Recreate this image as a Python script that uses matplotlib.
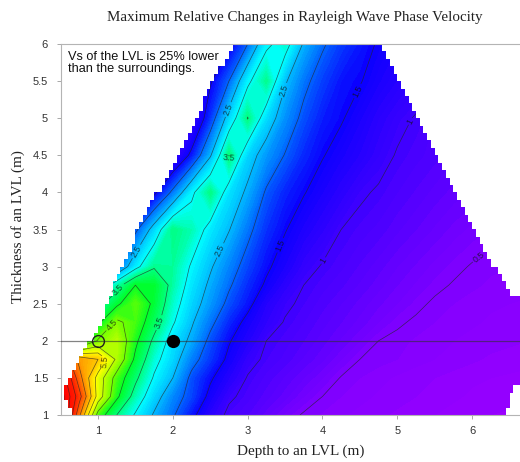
import numpy as np
import matplotlib
matplotlib.use("Agg")
import matplotlib.pyplot as plt
from matplotlib.colors import LinearSegmentedColormap
from matplotlib.patches import Polygon

n = np.nan

# grid of the computed maximum relative change (%) of the phase velocity
depth = [0.5, 0.75, 1.0, 1.25, 1.5, 1.75, 2.0, 2.25, 2.5, 2.75, 3.0, 3.25, 3.5,
         3.75, 4.0, 4.25, 4.5, 4.75, 5.0, 5.25, 5.5, 5.75, 6.0, 6.25, 6.5, 6.75]
thickness = [1.0, 1.25, 1.5, 1.75, 2.0, 2.25, 2.5, 2.75, 3.0, 3.5, 4.0, 4.5, 5.0, 5.5, 6.0]
change = [
    [9.0, 6.6, 4.3, 3.5, 2.95, 2.45, 2.05, 1.6, 1.2, 0.93, 0.85, 0.72, 0.58, 0.48, 0.44, 0.41, 0.38, 0.36, 0.34, 0.32, 0.30, 0.28, 0.26, 0.25, 0.24, 0.23],
    [8.8, 7.2, 5.3, 4.1, 3.3, 2.7, 2.2, 1.85, 1.4, 1.05, 0.92, 0.82, 0.72, 0.6, 0.5, 0.45, 0.42, 0.39, 0.37, 0.35, 0.33, 0.31, 0.29, 0.28, 0.27, 0.26],
    [8.5, 6.7, 5.3, 4.3, 3.6, 2.95, 2.5, 1.9, 1.55, 1.25, 0.98, 0.88, 0.79, 0.7, 0.6, 0.49, 0.45, 0.42, 0.39, 0.37, 0.35, 0.33, 0.31, 0.3, 0.29, 0.28],
    [7.6, 6.35, 6.0, 4.9, 3.9, 3.15, 2.7, 2.15, 1.78, 1.42, 1.1, 0.95, 0.88, 0.79, 0.71, 0.6, 0.5, 0.47, 0.45, 0.42, 0.4, 0.38, 0.36, 0.34, 0.33, 0.32],
    [n, 3.6, 4.55, 4.95, 4.1, 3.4, 2.8, 2.4, 1.9, 1.53, 1.27, 1.0, 0.92, 0.85, 0.77, 0.69, 0.6, 0.5, 0.47, 0.44, 0.42, 0.4, 0.38, 0.37, 0.36, 0.35],
    [n, 3.0, 3.9, 4.6, 4.3, 3.7, 3.05, 2.55, 2.1, 1.7, 1.4, 1.15, 0.98, 0.9, 0.82, 0.75, 0.68, 0.6, 0.52, 0.48, 0.45, 0.43, 0.41, 0.39, 0.38, 0.37],
    [n, n, 3.3, 3.9, 4.4, 3.9, 3.2, 2.7, 2.3, 1.9, 1.6, 1.25, 1.05, 0.95, 0.87, 0.8, 0.73, 0.66, 0.6, 0.53, 0.48, 0.45, 0.43, 0.41, 0.4, 0.39],
    [n, n, 2.5, 3.3, 4.0, 3.95, 3.35, 2.82, 2.42, 2.05, 1.72, 1.45, 1.18, 1.0, 0.92, 0.86, 0.79, 0.72, 0.65, 0.59, 0.53, 0.49, 0.46, 0.44, 0.43, 0.42],
    [n, n, n, 2.0, 2.85, 3.45, 3.4, 2.95, 2.55, 2.18, 1.85, 1.56, 1.34, 1.1, 0.98, 0.91, 0.84, 0.77, 0.7, 0.64, 0.58, 0.53, 0.49, 0.46, 0.45, n],
    [n, n, n, n, 1.9, 2.7, 3.5, 3.3, 2.85, 2.52, 2.1, 1.75, 1.52, 1.32, 1.16, 1.0, 0.93, 0.88, 0.81, 0.75, 0.69, 0.63, 0.58, 0.54, n, n],
    [n, n, n, n, n, 1.4, 2.1, 2.9, 3.5, 2.8, 2.42, 1.95, 1.68, 1.52, 1.35, 1.19, 1.04, 0.97, 0.9, 0.84, 0.78, 0.73, 0.69, n, n, n],
    [n, n, n, n, n, n, 1.0, 1.6, 2.45, 3.55, 2.7, 2.3, 1.98, 1.7, 1.52, 1.37, 1.24, 1.1, 0.98, 0.92, 0.87, 0.81, n, n, n, n],
    [n, n, n, n, n, n, n, 1.0, 1.75, 2.7, 3.52, 2.75, 2.25, 1.9, 1.65, 1.53, 1.36, 1.2, 1.07, 0.98, 0.9, n, n, n, n, n],
    [n, n, n, n, n, n, n, 1.0, 1.45, 2.0, 2.9, 3.45, 2.55, 2.1, 1.82, 1.6, 1.52, 1.36, 1.24, 1.14, n, n, n, n, n, n],
    [n, n, n, n, n, n, n, n, 1.0, 1.4, 2.0, 2.9, 3.2, 2.45, 2.05, 1.8, 1.62, 1.47, 1.35, n, n, n, n, n, n, n],
]

# blanking outline of the modelled region
left_h = [1.0, 1.12, 1.25, 1.4, 1.5, 1.75, 2.0, 2.25, 2.5, 2.7, 3.1, 3.7, 4.3, 5.0, 5.25, 5.5, 5.75, 6.0]
left_d = [0.65, 0.57, 0.55, 0.6, 0.66, 0.79, 0.93, 1.07, 1.16, 1.2, 1.39, 1.65, 2.0, 2.36, 2.44, 2.55, 2.72, 2.82]
right_h = [1.0, 1.15, 1.3, 1.4, 2.5, 2.6, 2.73, 3.26, 4.13, 4.94, 5.92, 6.0]
right_d = [6.45, 6.5, 6.56, 6.8, 6.8, 6.52, 6.43, 6.11, 5.66, 5.26, 4.8, 4.75]

# models marked on the 2 m thick layer
open_pt = (1.0, 2.0)
solid_pt = (2.0, 2.0)

# contour labels: level -> places along the line
label_spots = {
    0.5: [(6.07, 3.16)],
    1.0: [(4.07, 3.05), (5.21, 4.94)],
    1.5: [(3.43, 3.29), (4.44, 5.38)],
    2.5: [(2.63, 3.22), (1.52, 3.2), (3.47, 5.38), (2.76, 5.11)],
    3.5: [(1.33, 2.64), (1.83, 2.24), (2.66, 4.41)],
    4.5: [(1.19, 2.21)],
    5.5: [(1.12, 1.71)],
}
plain_levels = [2.0, 3.0, 4.0, 5.0, 6.0, 6.5, 7.0, 7.5, 8.0, 8.5]

cmap_vals = [0.0, 0.5, 1.0, 1.5, 2.0, 2.5, 3.0, 3.5, 4.0, 4.5, 5.0, 5.5, 6.0, 6.5, 7.0, 7.5, 8.5]
cmap_cols = ['#af00ff', '#7d00ff', '#3c00ff', '#0a00ff', '#0064ff', '#00b9ff', '#00ffff',
             '#00ff82', '#00ff28', '#6eff00', '#beff00', '#ffff00', '#ffc800', '#ff8c00',
             '#ff5000', '#ff1e00', '#ff0000']
vmin, vmax = cmap_vals[0], cmap_vals[-1]
rainbow = LinearSegmentedColormap.from_list(
    'surfer_rainbow', [((v - vmin) / (vmax - vmin), c) for v, c in zip(cmap_vals, cmap_cols)])


def saw_edge(hs_pts, ds_pts, step_h=0.1, step_d=0.05):
    # blanked grid cells leave a stepped edge
    hs = np.arange(hs_pts[0], hs_pts[-1] + 1e-9, step_h)
    ds = np.round(np.interp(hs, hs_pts, ds_pts) / step_d) * step_d
    pts = []
    for i in range(len(hs) - 1):
        pts.append((ds[i], hs[i]))
        pts.append((ds[i], hs[i + 1]))
    pts.append((ds[-1], hs[-1]))
    return pts


fig = plt.figure(figsize=(5.2, 4.62), dpi=100)
ax = fig.add_axes([60.6 / 520, 47 / 462, 1 - 60.6 / 520, 371 / 462])

Z = np.ma.masked_invalid(np.array(change))
D, H = np.meshgrid(depth, thickness)

right_pts = saw_edge(right_h, right_d)
left_pts = saw_edge(left_h, left_d)[::-1]
outline = Polygon(right_pts + left_pts, closed=True, transform=ax.transData)

fill_levels = np.arange(0.0, 9.01, 0.05)
cf = ax.contourf(D, H, Z, levels=fill_levels, cmap=rainbow, vmin=vmin, vmax=vmax,
                 extend='both', antialiased=False)
cf.set_clip_path(outline)

line_style = dict(colors='#262626', linewidths=0.5, alpha=0.72)
cs = ax.contour(D, H, Z, levels=plain_levels, **line_style)
cs.set_clip_path(outline)

# one contour set per labelled level
for lv, spots in label_spots.items():
    cl = ax.contour(D, H, Z, levels=[lv], **line_style)
    cl.set_clip_path(outline)
    txts = ax.clabel(cl, manual=spots, inline=True, inline_spacing=1,
                     fontsize=6.3, fmt=lambda v: f'{v:g}', colors='#111111')
    for t in txts:
        t.set_fontfamily('Liberation Sans')

ax.axhline(2.0, color='#303030', lw=0.9, alpha=0.6, zorder=4)
ax.plot(*open_pt, 'o', ms=8.5, mfc='none', mec='#202020', mew=1.0, zorder=5)
ax.plot(*solid_pt, 'o', ms=8.5, mfc='black', mec='black', zorder=5)

ax.set_xlim(0.5, 6.64)
ax.set_ylim(1.0, 6.0)
ax.set_xticks([1, 2, 3, 4, 5, 6])
yt = np.arange(1.0, 6.01, 0.5)
ax.set_yticks(yt)
ax.set_yticklabels([f'{v:g}' for v in yt])
for lab in ax.get_xticklabels() + ax.get_yticklabels():
    lab.set_fontfamily('Liberation Sans')
ax.tick_params(direction='out', length=3, width=0.6, color='#9a9a9a',
               labelsize=8, labelcolor='#333333')
ax.tick_params(axis='y', pad=6)
ax.tick_params(axis='x', pad=5)
for side in ['left', 'top', 'bottom']:
    ax.spines[side].set_color('#b4b4b4')
    ax.spines[side].set_linewidth(0.8)
ax.spines['right'].set_visible(False)

ax.text(0.6, 5.9, 'Vs of the LVL is 25% lower\nthan the surroundings.',
        fontsize=9.2, family='Liberation Sans', color='#111111', va='top', ha='left',
        linespacing=1.0)

fig.text(0.567, 0.963, 'Maximum Relative Changes in Rayleigh Wave Phase Velocity',
         family='Liberation Serif', fontsize=10.8, ha='center', va='center', color='#222222')
fig.text(0.579, 0.024, 'Depth to an LVL (m)', family='Liberation Serif', fontsize=10.9,
         ha='center', va='center', color='#222222')
fig.text(0.034, 0.509, 'Thickness of an LVL (m)', family='Liberation Serif', fontsize=10.9,
         ha='center', va='center', rotation=90, color='#222222')

fig.savefig('out.png', dpi=100)
